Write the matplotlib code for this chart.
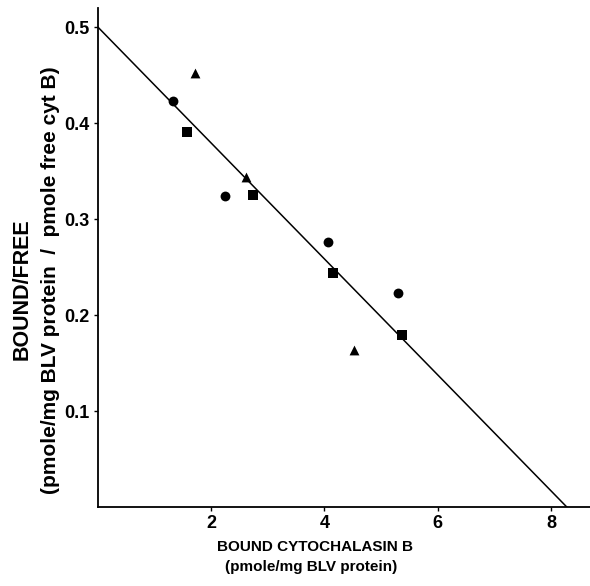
import matplotlib
matplotlib.use("Agg")
import matplotlib.pyplot as plt

plt.rcParams['font.family'] = ['Liberation Sans', 'DejaVu Sans']

# Data
circle_x = [1.32, 2.24, 4.06, 5.30]
circle_y = [0.423, 0.324, 0.276, 0.223]
square_x = [1.57, 2.73, 4.15, 5.37]
square_y = [0.391, 0.325, 0.244, 0.179]
triangle_x = [1.71, 2.61, 4.52]
triangle_y = [0.452, 0.344, 0.164]

# Fitted line: intercepts
fit_x = [0.0, 8.28]
fit_y = [0.5, 0.0]

x_ticks = [2, 4, 6, 8]
y_ticks = [0.1, 0.2, 0.3, 0.4, 0.5]
y_ticklabels = ['0.1', '0.2', '0.3', '0.4', '0.5']

W, H = 590, 586
fig = plt.figure(figsize=(W / 100, H / 100), dpi=100)
ax = fig.add_axes([98 / W, 1 - 507 / H, (W - 98) / W, (507 - 8) / H])

ax.plot(fit_x, fit_y, color='black', lw=1.1, zorder=2)
ax.scatter(circle_x, circle_y, marker='o', s=50, color='black', zorder=3, linewidths=0)
ax.scatter(square_x, square_y, marker='s', s=50, color='black', zorder=3, linewidths=0)
ax.scatter(triangle_x, triangle_y, marker='^', s=50, color='black', zorder=3, linewidths=0)

ax.set_xlim(0, 8.69)
ax.set_ylim(0, 0.52)
ax.set_xticks(x_ticks)
ax.set_xticklabels([str(t) for t in x_ticks], fontsize=13, fontweight='bold')
ax.set_yticks(y_ticks)
ax.set_yticklabels(y_ticklabels, fontsize=13, fontweight='bold')
ax.tick_params(axis='both', direction='out', length=3, width=1, pad=3)

for s in ['top', 'right']:
    ax.spines[s].set_visible(False)
for s in ['left', 'bottom']:
    ax.spines[s].set_linewidth(1.3)

# Axis labels as figure texts
fig.text(315 / W, 1 - 547 / H, 'BOUND CYTOCHALASIN B', ha='center', va='center',
         fontsize=11, fontweight='bold')
fig.text(311 / W, 1 - 567 / H, '(pmole/mg BLV protein)', ha='center', va='center',
         fontsize=11, fontweight='bold')
fig.text(22 / W, 1 - 289 / H, 'BOUND/FREE', ha='center', va='center',
         rotation=90, fontsize=15.5, fontweight='bold')
fig.text(51 / W, 1 - 280 / H, '(pmole/mg BLV protein  /  pmole free cyt B)', ha='center',
         va='center', rotation=90, fontsize=15, fontweight='bold')

fig.savefig('out.png', dpi=100)
